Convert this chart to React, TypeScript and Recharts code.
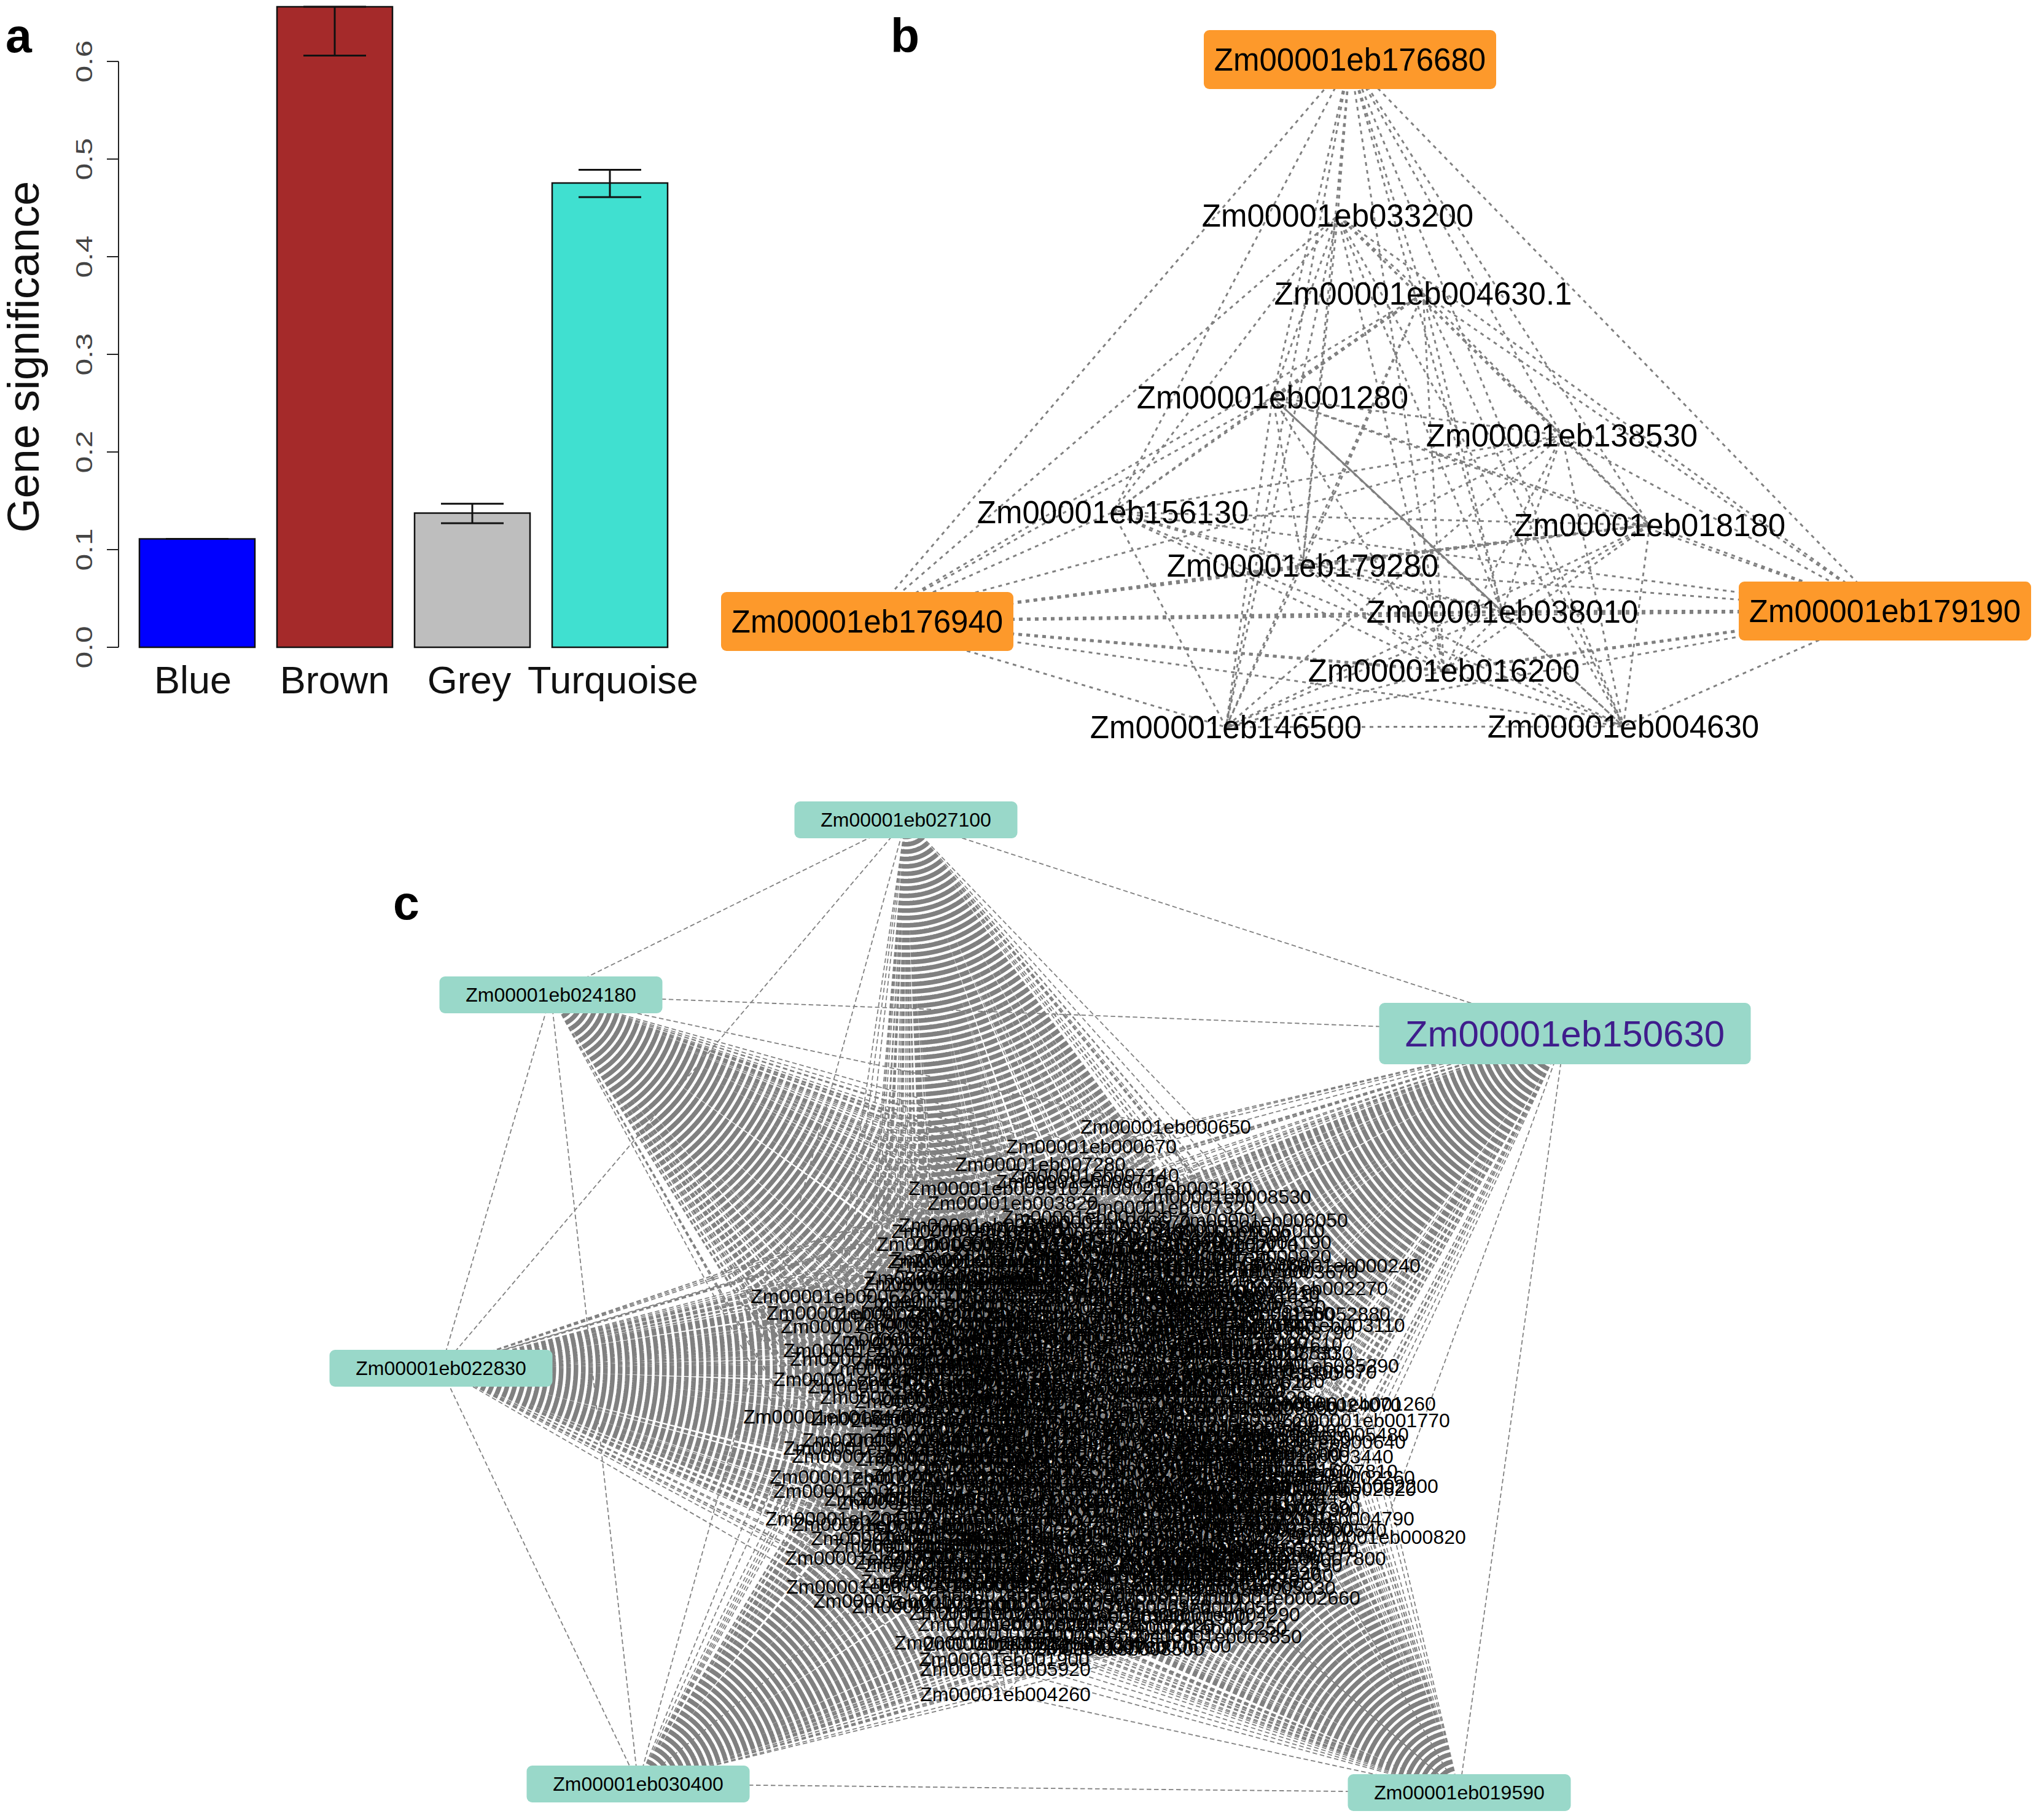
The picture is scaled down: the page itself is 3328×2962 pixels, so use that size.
import { Bar, Cell, ComposedChart, ErrorBar, Label, Line, XAxis, YAxis } from 'recharts';

const FONT = '"Liberation Sans", Arial, sans-serif';
const EDGE = '#808080';

// panel a
const modules = ['Blue', 'Brown', 'Grey', 'Turquoise'];
const significance = [0.111, 0.656, 0.1374, 0.4755];
const errLow = [0, 0.05, 0.0104, 0.0145];
const errHigh = [0, 0, 0.0096, 0.0135];
const moduleColors = ['#0000ff', '#a52a2a', '#bebebe', '#40e0d0'];
const gsTicks = [0, 0.1, 0.2, 0.3, 0.4, 0.5, 0.6];
const labelNudge = [-7, 0, -5, 5];

const barRows = modules.map((name, i) => ({
  name,
  value: significance[i],
  err: [errLow[i], errHigh[i]],
}));

// panel b, layout positions of the nodes
const hubsB = [
  ['176680', 2198, 97],
  ['176940', 1412, 1012],
  ['179190', 3069, 995],
];
const genesB = [
  ['033200', 2178, 351],
  ['004630.1', 2317, 478],
  ['001280', 2072, 647],
  ['138530', 2543, 709],
  ['156130', 1812, 834],
  ['018180', 2686, 855],
  ['179280', 2121, 921],
  ['038010', 2446, 996],
  ['016200', 2351, 1092],
  ['146500', 1996, 1184],
  ['004630', 2643, 1183],
];
const heavyB = [
  ['176940', '179280'],
  ['176940', '038010'],
  ['179190', '038010'],
  ['176940', '016200'],
  ['179190', '016200'],
  ['004630.1', '001280'],
  ['179280', '018180'],
];
const solidB = [['001280', '038010']];

// panel c
const hubsC = [
  ['027100', 1475, 1335],
  ['024180', 897, 1620],
  ['150630', 2548, 1683],
  ['022830', 718, 2228],
  ['030400', 1039, 2905],
  ['019590', 2376, 2919],
];
const genesC = [
  ['000650', 1898, 1835], ['000670', 1777, 1867], ['007280', 1694, 1896], ['007140', 1781, 1914],
  ['003130', 1900, 1935], ['008530', 1996, 1949], ['007320', 1905, 1966], ['006050', 2056, 1987],
  ['006010', 2018, 2004], ['004190', 2029, 2023], ['000920', 2029, 2046], ['000240', 2174, 2061],
  ['003670', 2072, 2071], ['002270', 2121, 2098], ['028190', 1918, 2112], ['052880', 2125, 2140],
  ['003110', 2150, 2158], ['003790', 2067, 2170], ['007610', 2047, 2189], ['085330', 2064, 2203],
  ['085290', 2139, 2224], ['109670', 2103, 2234], ['004850', 1955, 2264], ['001260', 2199, 2286],
  ['024070', 2143, 2288], ['001770', 2222, 2313], ['005480', 2155, 2336], ['000640', 2150, 2348],
  ['003440', 2130, 2372], ['007810', 2137, 2396], ['002260', 2165, 2406], ['002200', 2203, 2420],
  ['002820', 2167, 2425], ['006790', 2061, 2459], ['004790', 2164, 2473], ['000540', 2119, 2492],
  ['000820', 2248, 2503], ['007570', 2073, 2524], ['007800', 2118, 2538], ['002490', 2047, 2549],
  ['008220', 2012, 2562], ['005930', 2036, 2586], ['002660', 2076, 2602], ['004290', 1978, 2629],
  ['002250', 1957, 2651], ['003850', 1981, 2665], ['008500', 1822, 2685],
  ['009910', 1618, 1935], ['006770', 1760, 1924], ['003820', 1649, 1959], ['001430', 1770, 1982],
  ['002670', 1800, 1990], ['005140', 1602, 1995], ['002950', 1590, 2005], ['008360', 1566, 2026],
  ['004470', 1584, 2054], ['006230', 1597, 2060], ['001580', 1548, 2081], ['007060', 1544, 2090],
  ['000610', 1361, 2111], ['007720', 1387, 2138], ['009310', 1410, 2160], ['010460', 1490, 2181],
  ['003950', 1414, 2199], ['004020', 1425, 2213], ['001960', 1486, 2229], ['024970', 1398, 2246],
  ['006180', 1454, 2258], ['002730', 1474, 2275], ['015470', 1349, 2307], ['003240', 1459, 2310],
  ['008040', 1445, 2345], ['002190', 1414, 2358], ['005370', 1428, 2371], ['012240', 1392, 2405],
  ['009050', 1398, 2428], ['004610', 1481, 2441], ['002830', 1503, 2447], ['201970', 1385, 2473],
  ['007730', 1428, 2482], ['005210', 1459, 2505], ['003370', 1494, 2517], ['009370', 1417, 2537],
  ['004120', 1588, 2568], ['071760', 1419, 2584], ['001090', 1463, 2607], ['002400', 1526, 2616],
  ['009390', 1619, 2627], ['006920', 1633, 2645], ['003020', 1595, 2675], ['008150', 1642, 2677],
  ['000780', 1762, 2683], ['001900', 1635, 2702], ['005920', 1637, 2718], ['004260', 1637, 2759],
  ['001010', 1652, 2002], ['002340', 1788, 2008], ['005560', 1915, 1998], ['003720', 1714, 2015],
  ['006640', 1853, 2019], ['004900', 1962, 2012], ['008810', 1640, 2028], ['001320', 1746, 2031],
  ['007490', 1881, 2035], ['002110', 1976, 2028], ['003590', 1690, 2041], ['005080', 1812, 2044],
  ['009720', 1930, 2049], ['001660', 1627, 2053], ['006400', 1758, 2056], ['004350', 1869, 2060],
  ['002980', 1991, 2058], ['008270', 1668, 2069], ['003160', 1795, 2072], ['005710', 1912, 2077],
  ['001840', 1611, 2082], ['007950', 1723, 2085], ['004530', 1846, 2088], ['002050', 1967, 2086],
  ['006310', 1655, 2096], ['003480', 1775, 2099], ['008690', 1890, 2102], ['001210', 2010, 2105],
  ['005290', 1601, 2110], ['009140', 1702, 2113], ['002590', 1830, 2116], ['006870', 1952, 2119],
  ['003930', 1565, 2125], ['004080', 1676, 2127], ['007380', 1796, 2130], ['001570', 1908, 2134],
  ['005830', 2020, 2128], ['002620', 1498, 2141], ['008440', 1622, 2143], ['003300', 1742, 2145],
  ['006560', 1861, 2148], ['004740', 1977, 2152], ['001130', 1530, 2156], ['007210', 1655, 2159],
  ['002880', 1773, 2161], ['005470', 1890, 2165], ['009560', 2003, 2163], ['003070', 1580, 2172],
  ['006090', 1701, 2175], ['004210', 1822, 2178], ['001750', 1938, 2181], ['008120', 1512, 2187],
  ['002420', 1638, 2190], ['005990', 1755, 2193], ['003610', 1868, 2195], ['007670', 1985, 2199],
  ['001390', 1560, 2204], ['004670', 1682, 2206], ['006750', 1800, 2209], ['002130', 1919, 2212],
  ['008910', 1526, 2219], ['003510', 1624, 2222], ['005610', 1739, 2224], ['001490', 1852, 2227],
  ['007040', 1970, 2229], ['002710', 1571, 2236], ['004410', 1698, 2239], ['009230', 1815, 2241],
  ['003180', 1930, 2246], ['006120', 2018, 2249], ['001030', 1535, 2252], ['005350', 1650, 2255],
  ['002560', 1771, 2258], ['008770', 1882, 2261], ['003860', 1590, 2268], ['004940', 1716, 2270],
  ['007190', 1839, 2273], ['001620', 1990, 2276], ['006480', 1530, 2282], ['002290', 1648, 2285],
  ['005050', 1760, 2287], ['003760', 1896, 2291], ['008350', 2040, 2293], ['001180', 1585, 2298],
  ['004560', 1702, 2301], ['007830', 1825, 2303], ['002930', 1951, 2306], ['006280', 1524, 2313],
  ['003420', 1637, 2316], ['005760', 1769, 2318], ['001270', 1879, 2322], ['009480', 2009, 2324],
  ['002370', 1565, 2329], ['004830', 1688, 2331], ['007300', 1810, 2334], ['003650', 1932, 2338],
  ['006610', 2060, 2340], ['001700', 1516, 2345], ['005180', 1641, 2347], ['002060', 1757, 2350],
  ['008580', 1873, 2353], ['004320', 1995, 2356], ['003000', 1580, 2361], ['007420', 1703, 2364],
  ['001520', 1826, 2367], ['006030', 1948, 2370], ['002800', 2045, 2368], ['005420', 1533, 2376],
  ['003260', 1654, 2379], ['009670', 1774, 2381], ['004150', 1892, 2385], ['001350', 2006, 2387],
  ['007880', 1567, 2392], ['002510', 1691, 2394], ['006340', 1813, 2398], ['003530', 1934, 2400],
  ['005010', 2070, 2403], ['001810', 1525, 2408], ['004700', 1643, 2411], ['008060', 1763, 2413],
  ['002160', 1880, 2417], ['006990', 2001, 2419], ['003340', 1578, 2424], ['005650', 1709, 2426],
  ['001920', 1830, 2430], ['007600', 1950, 2432], ['004490', 2075, 2436], ['002440', 1540, 2440],
  ['009800', 1664, 2443], ['003090', 1785, 2445], ['006510', 1903, 2449], ['001050', 2020, 2452],
  ['005240', 1596, 2456], ['002780', 1720, 2459], ['008410', 1842, 2461], ['004010', 1965, 2465],
  ['007150', 1552, 2471], ['003445', 1677, 2474], ['001640', 1798, 2476], ['006670', 1915, 2480],
  ['002320', 2032, 2483], ['005500', 1520, 2488], ['004270', 1631, 2490], ['009030', 1754, 2493],
  ['003120', 1871, 2496], ['007510', 1988, 2499], ['001450', 1571, 2504], ['006200', 1695, 2507],
  ['002690', 1817, 2509], ['005880', 1938, 2512], ['003960', 1541, 2519], ['008620', 1655, 2521],
  ['004640', 1774, 2524], ['001240', 1894, 2527], ['007270', 2006, 2530], ['002030', 1593, 2535],
  ['005320', 1718, 2537], ['003710', 1838, 2540], ['006840', 1959, 2543], ['001780', 1546, 2549],
  ['009450', 1672, 2552], ['004380', 1794, 2555], ['002610', 1915, 2557], ['007020', 1617, 2565],
  ['005160', 1739, 2568], ['003220', 1860, 2571], ['001370', 1977, 2573], ['006430', 1569, 2580],
  ['002840', 1691, 2583], ['008240', 1815, 2585], ['004580', 1935, 2589], ['003540', 1642, 2596],
  ['007360', 1765, 2598], ['001110', 1885, 2602], ['005600', 1590, 2610], ['002390', 1712, 2613],
  ['006970', 1833, 2615], ['004050', 1940, 2618], ['003800', 1670, 2628], ['008990', 1790, 2631],
  ['001500', 1896, 2635], ['005730', 1720, 2644], ['002220', 1838, 2647], ['007650', 1682, 2660],
  ['004130', 1805, 2663], ['003390', 1727, 2676], ['006700', 1866, 2680],
  ['010120', 1623, 2024], ['010240', 1931, 2033], ['010390', 1589, 2050], ['010410', 1913, 2063],
  ['010580', 1993, 2069], ['010630', 1631, 2078], ['010770', 1956, 2094], ['010860', 1578, 2092],
  ['010940', 1677, 2108], ['011030', 2011, 2111], ['011170', 1539, 2120], ['011250', 1944, 2124],
  ['011390', 1612, 2136], ['011420', 1917, 2141], ['011560', 2035, 2139], ['011680', 1571, 2151],
  ['011730', 1694, 2155], ['011840', 2006, 2158], ['011950', 1622, 2168], ['012060', 1935, 2171],
  ['012170', 1556, 2181], ['012310', 1675, 2184], ['012490', 1991, 2187], ['012520', 1612, 2198],
  ['012660', 1922, 2201], ['012780', 2040, 2204], ['012830', 1563, 2214], ['012970', 1674, 2217],
  ['013040', 1985, 2219], ['013150', 1607, 2231], ['013280', 1926, 2234], ['013390', 2042, 2237],
  ['013410', 1570, 2246], ['013570', 1681, 2249], ['013620', 1998, 2253], ['013760', 1625, 2263],
  ['013880', 1951, 2265], ['013910', 1569, 2277], ['014030', 1684, 2280], ['014160', 2015, 2283],
  ['014270', 1625, 2293], ['014350', 1947, 2296], ['014480', 1558, 2308], ['014590', 1684, 2310],
  ['014620', 2002, 2313], ['014740', 1622, 2326], ['014830', 1937, 2328], ['014960', 2055, 2330],
  ['015010', 1555, 2339], ['015180', 1674, 2342], ['015230', 1995, 2345], ['015340', 1617, 2357],
  ['015490', 1939, 2360], ['015560', 2059, 2362], ['015680', 1565, 2372], ['015730', 1686, 2374],
  ['015820', 2005, 2377], ['015940', 1625, 2388], ['016030', 1943, 2391], ['016150', 2060, 2394],
  ['016280', 1558, 2403], ['016340', 1678, 2406], ['016470', 1997, 2409], ['016520', 1627, 2419],
  ['016690', 1945, 2423], ['016740', 2065, 2425], ['016810', 1576, 2435], ['016970', 1900, 2437],
  ['017020', 2018, 2441], ['017180', 1637, 2451], ['017230', 1958, 2453], ['017390', 2076, 2456],
  ['017440', 1590, 2467], ['017560', 1912, 2469], ['017610', 2030, 2472], ['017750', 1625, 2483],
  ['017820', 1947, 2485], ['017960', 2062, 2488], ['018030', 1560, 2499], ['018140', 1682, 2501],
  ['018290', 1998, 2504], ['018370', 1625, 2515], ['018450', 1943, 2518], ['018510', 2060, 2520],
  ['018640', 1578, 2530], ['018720', 1898, 2533], ['018890', 2016, 2535], ['018950', 1642, 2546],
  ['019060', 1963, 2549], ['019170', 1530, 2544], ['019240', 1590, 2560], ['019310', 1912, 2563],
  ['019460', 2032, 2565], ['019520', 1660, 2578], ['019680', 1985, 2580], ['019730', 1540, 2575],
];

type GeneRow = (string | number)[];

const toNode = ([id, x, y]: GeneRow) => ({ id: `Zm00001eb${id}`, key: String(id), x: Number(x), y: Number(y) });
const nodesOf = (rows: GeneRow[]) => rows.map(toNode);

const edgeRows = (pairs: any[][]) =>
  pairs.flatMap(([a, b]) => [
    { x: a.x, y: a.y },
    { x: b.x, y: b.y },
    { x: b.x, y: null },
  ]);

const allPairs = (list: any[]) => list.flatMap((a, i) => list.slice(i + 1).map((b) => [a, b]));

const nodesB = nodesOf([...hubsB, ...genesB]);
const findB = (key: string) => nodesB.find((n) => n.key === key);
const edgesB = edgeRows(allPairs(nodesB));
const heavyEdgesB = edgeRows(heavyB.map(([a, b]) => [findB(a), findB(b)]));
const solidEdgesB = edgeRows(solidB.map(([a, b]) => [findB(a), findB(b)]));

const hubNodesC = nodesOf(hubsC);
const geneNodesC = nodesOf(genesC);
const edgesC = edgeRows([
  ...allPairs(hubNodesC),
  ...hubNodesC.flatMap((h) => geneNodesC.map((g) => [h, g])),
]);

const GeneDot = ({ cx, cy, payload, fontSize }: any) => (
  <text
    x={cx}
    y={cy}
    textAnchor="middle"
    dominantBaseline="central"
    fontFamily={FONT}
    fontSize={fontSize}
    fill="#000"
  >
    {payload.id}
  </text>
);

const HubDot = ({ cx, cy, payload, w, h, fontSize, fill, color }: any) => (
  <g>
    <rect x={cx - w / 2} y={cy - h / 2} width={w} height={h} rx={9} fill={fill} />
    <text
      x={cx}
      y={cy}
      textAnchor="middle"
      dominantBaseline="central"
      fontFamily={FONT}
      fontSize={fontSize}
      fill={color}
    >
      {payload.id}
    </text>
  </g>
);

const PanelB = () => (
  <div style={{ position: 'absolute', left: 1150, top: 0 }}>
    <ComposedChart width={2178} height={1250} margin={{ top: 0, right: 0, bottom: 0, left: 0 }}>
      <XAxis type="number" dataKey="x" domain={[1150, 3328]} hide allowDataOverflow />
      <YAxis type="number" domain={[0, 1250]} reversed hide allowDataOverflow width={0} />
      <Line data={edgesB} dataKey="y" stroke={EDGE} strokeWidth={3} strokeDasharray="6 7" dot={false} activeDot={false} isAnimationActive={false} />
      <Line data={heavyEdgesB} dataKey="y" stroke={EDGE} strokeWidth={5} strokeDasharray="6 7" dot={false} activeDot={false} isAnimationActive={false} />
      <Line data={solidEdgesB} dataKey="y" stroke={EDGE} strokeWidth={3} dot={false} activeDot={false} isAnimationActive={false} />
      <Line
        data={nodesOf(genesB)}
        dataKey="y"
        stroke="none"
        activeDot={false}
        isAnimationActive={false}
        dot={(p: any) => <GeneDot key={p.index} {...p} fontSize={51} />}
      />
      <Line
        data={nodesOf(hubsB)}
        dataKey="y"
        stroke="none"
        activeDot={false}
        isAnimationActive={false}
        dot={(p: any) => <HubDot key={p.index} {...p} w={476} h={96} fontSize={51} fill="#fd992b" color="#000" />}
      />
    </ComposedChart>
  </div>
);

const PanelC = () => (
  <div style={{ position: 'absolute', left: 400, top: 1250 }}>
    <ComposedChart width={2600} height={1712} margin={{ top: 0, right: 0, bottom: 0, left: 0 }}>
      <XAxis type="number" dataKey="x" domain={[400, 3000]} hide allowDataOverflow />
      <YAxis type="number" domain={[1250, 2962]} reversed hide allowDataOverflow width={0} />
      <Line data={edgesC} dataKey="y" stroke={EDGE} strokeWidth={1.8} strokeDasharray="7.5 4.5" dot={false} activeDot={false} isAnimationActive={false} />
      <Line
        data={geneNodesC}
        dataKey="y"
        stroke="none"
        activeDot={false}
        isAnimationActive={false}
        dot={(p: any) => <GeneDot key={p.index} {...p} fontSize={32} />}
      />
      <Line
        data={hubNodesC}
        dataKey="y"
        stroke="none"
        activeDot={false}
        isAnimationActive={false}
        dot={(p: any) =>
          p.payload.key === '150630' ? (
            <HubDot key={p.index} {...p} w={605} h={100} fontSize={60} fill="#99d8c9" color="#3f1d8c" />
          ) : (
            <HubDot key={p.index} {...p} w={363} h={60} fontSize={32} fill="#99d8c9" color="#000" />
          )
        }
      />
    </ComposedChart>
  </div>
);

const GsTick = ({ x, y, payload }: any) => (
  <g>
    {payload.value < 0.6 && <line x1={x + 21} x2={x + 21} y1={y} y2={y - 159} stroke="#222" strokeWidth={2} />}
    <text
      transform={`translate(${x - 34},${y}) rotate(-90) scale(1.38,1)`}
      textAnchor="middle"
      dominantBaseline="central"
      fontFamily={FONT}
      fontSize={36}
      fill="#444"
    >
      {payload.value.toFixed(1)}
    </text>
  </g>
);

const ModuleTick = ({ x, y, payload, index }: any) => (
  <text x={x + labelNudge[index]} y={y + 67} textAnchor="middle" fontFamily={FONT} fontSize={63} fill="#111">
    {payload.value}
  </text>
);

const PanelA = () => (
  <div style={{ position: 'absolute', left: 0, top: 0 }}>
    <ComposedChart width={1180} height={1240} data={barRows} margin={{ top: 11, right: 75, bottom: 0, left: 0 }}>
      <XAxis
        dataKey="name"
        height={186}
        padding={{ left: 16, right: 0 }}
        axisLine={false}
        tickLine={false}
        interval={0}
        tick={<ModuleTick />}
      />
      <YAxis
        width={193}
        domain={[0, 0.656]}
        ticks={gsTicks}
        interval={0}
        axisLine={false}
        tickSize={19}
        tickLine={{ stroke: '#222', strokeWidth: 2 }}
        tick={<GsTick />}
      >
        <Label
          content={() => (
            <text
              transform="translate(38,581) rotate(-90)"
              textAnchor="middle"
              dominantBaseline="central"
              fontFamily={FONT}
              fontSize={72}
              fill="#111"
            >
              Gene significance
            </text>
          )}
        />
      </YAxis>
      <Bar dataKey="value" barSize={188} stroke="#111" strokeWidth={2.5} isAnimationActive={false}>
        {moduleColors.map((c) => (
          <Cell key={c} fill={c} />
        ))}
        <ErrorBar dataKey="err" direction="y" width={51} stroke="#111" strokeWidth={3} isAnimationActive={false} />
      </Bar>
    </ComposedChart>
  </div>
);

const letter = { position: 'absolute', fontFamily: FONT, fontWeight: 700, fontSize: 77, lineHeight: 1, color: '#000' } as const;

export default function App() {
  return (
    <div style={{ position: 'absolute', left: 0, top: 0, width: 3328, height: 2962, background: '#fff', overflow: 'hidden' }}>
      <PanelC />
      <PanelB />
      <PanelA />
      <div style={{ ...letter, left: 9, top: 20 }}>a</div>
      <div style={{ ...letter, left: 1450, top: 20 }}>b</div>
      <div style={{ ...letter, left: 640, top: 1432 }}>c</div>
    </div>
  );
}
